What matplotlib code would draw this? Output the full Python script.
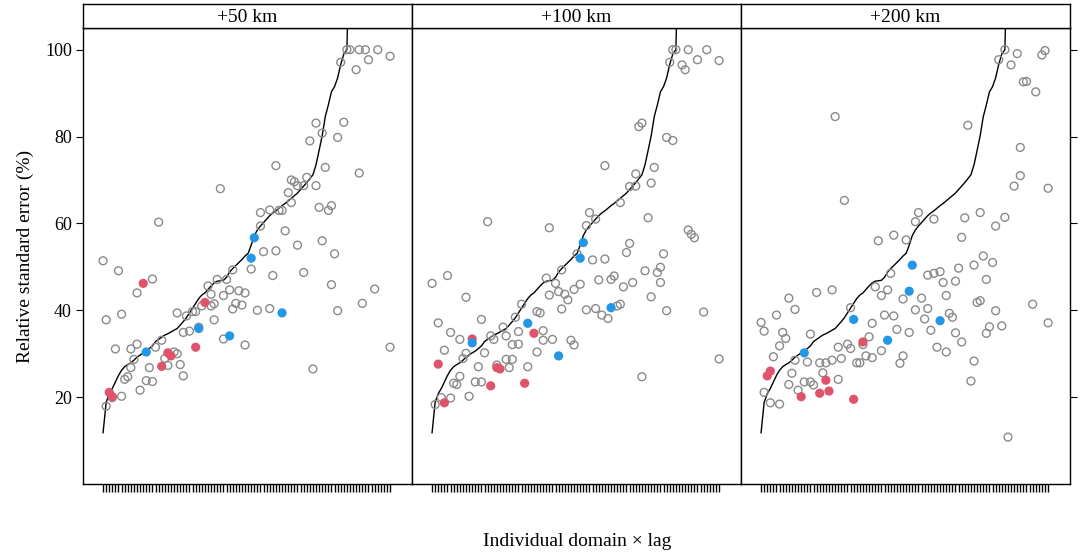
import matplotlib
matplotlib.use("Agg")
import matplotlib.pyplot as plt
import numpy as np

plt.rcParams['font.family'] = ['Liberation Serif', 'DejaVu Serif']

# panels
panel_titles = ['+50 km', '+100 km', '+200 km']
n_domains = 94
y_ticks = [20, 40, 60, 80, 100]

# baseline RSE, sorted (same line in every panel); values past 80 run off the top
baseline = [11.8, 18.8, 20.8, 22.0, 23.5, 25.0, 26.2, 27.0, 27.5, 27.9,
            28.5, 29.2, 29.7, 30.2, 30.6, 31.2, 31.8, 32.8, 33.3, 33.8,
            34.3, 34.6, 35.0, 35.4, 35.8, 36.6, 37.4, 38.3, 39.4, 40.5,
            41.6, 42.7, 43.5, 44.0, 44.8, 45.6, 46.3, 46.7, 46.8, 46.9,
            47.6, 48.8, 49.6, 50.3, 51.0, 51.7, 52.5, 53.1, 55.0, 57.2,
            58.5, 59.4, 60.2, 61.0, 61.8, 62.4, 62.9, 63.5, 64.1, 64.6,
            65.2, 65.8, 66.4, 67.0, 67.8, 68.6, 69.4, 70.3, 71.2, 73.5,
            76.8, 80.2, 84.6, 87.3, 90.3, 91.5, 93.5, 96.6, 99.0, 100.0,
            130, 140, 150, 160, 170, 180, 190, 200, 210, 220,
            230, 240, 250, 260]

# +50 km
p50_grey_x = [80, 81, 84, 86, 90, 94, 87, 78, 83, 70, 79, 72, 68, 77, 57, 73, 84, 39,
              62, 63, 67, 64, 66, 70, 61, 62, 71, 74, 75, 52, 55, 58, 59, 19, 52, 60, 64, 72,
              53, 57, 76, 49, 56, 66, 75, 89, 85, 77, 51, 55, 46, 44, 43, 45, 47, 42, 40, 38, 41, 43,
              35, 36, 36, 37, 33, 37, 30, 31, 28, 25, 27, 29, 32, 40, 47, 69, 94,
              6, 1, 17, 12, 7, 2, 5, 10, 12, 11, 18, 20, 10, 16, 8, 9, 15, 17, 13, 22, 24, 25,
              21, 26, 27, 4, 7, 2]
p50_grey_y = [100, 100, 100, 100, 100, 98.5, 97.7, 97.1, 95.4, 83.1, 83.3, 80.8, 79.0, 79.8, 73.3, 72.9, 71.6, 68.0,
              70.0, 69.6, 70.6, 68.7, 68.7, 68.7, 67.1, 64.8, 63.7, 63.0, 64.1, 62.5, 63.1, 63.0, 63.0, 60.3, 59.4, 58.3, 55.0, 56.0,
              53.5, 53.7, 53.0, 49.5, 48.0, 48.7, 45.9, 44.9, 41.6, 39.9, 40.0, 40.4, 41.2, 41.6, 40.3, 44.5, 44.0, 44.7, 43.4, 47.1, 47.1, 49.3,
              45.6, 43.7, 41.0, 41.5, 41.0, 37.8, 39.7, 39.7, 38.7, 39.4, 34.9, 35.2, 36.1, 33.4, 32.0, 26.5, 31.5,
              49.1, 51.4, 47.2, 44.0, 39.1, 37.8, 31.1, 31.1, 32.2, 28.7, 31.5, 33.1, 26.8, 26.8, 24.1, 24.7, 23.8, 23.6, 21.6, 27.3, 30.4, 30.0,
              28.9, 27.5, 24.9, 19.9, 20.2, 17.9]
p50_red_x = [14, 34, 31, 20, 22, 23, 3, 4]
p50_red_y = [46.2, 41.8, 31.5, 27.1, 30.2, 29.5, 21.1, 20.1]
p50_blue_x = [50, 49, 59, 32, 42, 15]
p50_blue_y = [56.7, 52.0, 39.4, 35.8, 34.1, 30.4]

# +100 km
p100_grey_x = [79, 80, 84, 90, 94, 87, 78, 82, 83, 68, 69, 77, 79, 57, 73, 67, 65, 67, 72,
               62, 52, 54, 51, 19, 39, 71, 84, 85, 86, 65, 64, 76, 53, 57, 48, 43, 38, 41, 42, 39,
               44, 45, 47, 49, 43, 51, 54, 56, 58, 61, 62, 55, 59, 60, 63, 66, 70, 74, 75, 75, 72, 77, 89, 94, 69,
               1, 6, 12, 3, 7, 10, 17, 5, 12, 11, 18, 20, 21, 24, 25, 27, 29, 28, 30, 29, 35, 36, 37,
               37, 40, 35, 32, 46, 47, 27, 25, 26, 22, 16, 10, 8, 9, 15, 17, 13, 4, 7, 2]
p100_grey_y = [100, 100, 100, 100, 97.5, 97.7, 97.1, 96.5, 95.4, 82.3, 83.1, 79.8, 79.1, 73.3, 72.9, 71.4, 68.5, 68.6, 69.3,
               64.8, 62.5, 61.0, 59.5, 60.4, 59.0, 61.3, 58.5, 57.5, 56.7, 55.4, 53.3, 53.0, 51.6, 51.8, 53.0, 49.3, 47.4, 46.2, 44.3, 43.5,
               43.7, 42.4, 44.8, 46.0, 40.3, 40.1, 40.4, 38.9, 38.1, 41.0, 41.4, 47.0, 47.1, 47.9, 45.4, 46.4, 49.1, 48.7, 49.9, 46.4, 43.1, 39.9, 39.6, 28.8, 24.7,
               46.2, 48.0, 43.0, 37.1, 34.9, 33.3, 37.9, 30.8, 30.1, 28.9, 30.2, 34.1, 33.3, 36.1, 34.1, 32.1, 32.2, 38.4, 41.4, 35.1, 39.7, 39.4, 35.3,
               33.1, 33.3, 30.4, 27.0, 33.1, 32.0, 28.7, 28.7, 26.8, 27.4, 27.0, 24.8, 23.2, 22.9, 23.5, 23.5, 20.2, 19.9, 19.8, 18.3]
p100_red_x = [14, 3, 34, 31, 22, 23, 20, 5]
p100_red_y = [33.4, 27.6, 34.7, 23.2, 26.8, 26.5, 22.6, 18.7]
p100_blue_x = [50, 49, 59, 14, 32, 42]
p100_blue_y = [55.6, 52.0, 40.6, 32.5, 37.0, 29.5]

# +200 km
p200_grey_x = [80, 78, 84, 82, 92, 93, 86, 87, 90, 25, 68, 85, 85, 83, 94, 28, 52, 51, 57, 67, 72, 80, 77,
               39, 44, 48, 66, 43, 38, 42, 40, 47, 53, 51, 55, 54, 56, 49, 45,
               41, 44, 37, 30, 36, 34, 40, 37, 35, 32, 33, 47, 46,
               27, 26, 29, 30, 24, 22, 20, 21, 26,
               13, 10, 15, 17, 18, 11, 16, 12, 5, 7, 9, 8,
               17, 6, 12, 10, 19, 24, 1, 2, 2, 4, 7, 81,
               89, 94, 69, 70, 58, 61, 64, 66, 62, 63, 61, 60,
               55, 57, 59, 64, 65, 70, 73, 76, 74, 71, 72, 77, 75, 74, 79]
p200_grey_y = [100, 97.7, 99.1, 96.5, 98.8, 99.8, 92.6, 92.7, 90.3, 84.6, 82.6, 77.5, 71.0, 68.6, 68.1, 65.3, 62.5, 60.4, 61.0, 61.3, 62.5, 61.4, 59.4,
               56.0, 57.3, 56.2, 56.8, 48.5, 45.4, 44.7, 43.4, 42.6, 42.8, 40.1, 40.4, 38.0, 35.4, 34.9, 35.6,
               38.9, 38.7, 37.0, 40.6, 33.9, 32.1, 30.7, 29.1, 29.5, 27.9, 27.9, 29.5, 27.8,
               28.9, 31.5, 32.2, 31.2, 28.5, 27.9, 27.9, 25.6, 24.1,
               21.6, 22.9, 23.5, 23.5, 22.8, 25.5, 28.1, 28.5, 29.3, 31.8, 33.5, 34.9,
               34.5, 38.9, 40.2, 42.8, 44.1, 44.7, 37.2, 35.2, 21.1, 18.7, 18.4, 10.8,
               41.4, 37.1, 23.7, 28.3, 31.5, 30.4, 34.8, 32.7, 39.3, 38.4, 43.4, 46.4,
               48.1, 48.5, 48.9, 46.7, 49.7, 50.4, 52.5, 51.0, 47.1, 41.8, 42.2, 39.9, 36.2, 34.7, 36.4]
p200_red_x = [34, 22, 23, 20, 14, 31, 3, 4]
p200_red_y = [32.7, 23.9, 21.4, 20.9, 20.1, 19.5, 24.9, 26.0]
p200_blue_x = [50, 49, 31, 42, 59, 15]
p200_blue_y = [50.4, 44.4, 37.9, 33.1, 37.6, 30.2]

panels = [
    (p50_grey_x, p50_grey_y, p50_red_x, p50_red_y, p50_blue_x, p50_blue_y),
    (p100_grey_x, p100_grey_y, p100_red_x, p100_red_y, p100_blue_x, p100_blue_y),
    (p200_grey_x, p200_grey_y, p200_red_x, p200_red_y, p200_blue_x, p200_blue_y),
]

W, H = 1084, 559
fig = plt.figure(figsize=(W / 100, H / 100), dpi=100)

idx = np.arange(1, n_domains + 1)
left_px = [83, 412, 741]
pw = 329
top_px, bot_px, strip_top = 28, 484, 4

for k, (gx, gy, rx, ry, bx, by) in enumerate(panels):
    ax = fig.add_axes([left_px[k] / W, 1 - bot_px / H, pw / W, (bot_px - top_px) / H])
    ax.plot(idx, baseline, color='black', lw=1.0, zorder=2)
    ax.scatter(gx, gy, s=32, facecolors='none', edgecolors='#8a8a8a', linewidths=1.0, zorder=3)
    ax.scatter(rx, ry, s=44, color='#DF536B', edgecolors='none', zorder=4)
    ax.scatter(bx, by, s=44, color='#2297E6', edgecolors='none', zorder=4)
    ax.set_xlim(-5.5, 101.1)
    ax.set_ylim(0, 105)
    ax.set_xticks(idx)
    ax.set_xticklabels([])
    ax.tick_params(axis='x', direction='out', length=5.5, width=1.0, bottom=True, top=False)
    for s in ax.spines.values():
        s.set_linewidth(1.0)
    ax.set_yticks(y_ticks)
    if k == 0:
        ax.tick_params(axis='y', direction='out', length=5, width=0.8, labelsize=13,
                       left=True, right=False, labelleft=True, pad=3)
    elif k == 2:
        ax.tick_params(axis='y', direction='out', length=5, width=0.8,
                       left=False, right=True, labelleft=False, labelright=False)
    else:
        ax.tick_params(axis='y', left=False, right=False, labelleft=False)

    # strip
    sax = fig.add_axes([left_px[k] / W, 1 - top_px / H, pw / W, (top_px - strip_top) / H])
    sax.set_xticks([])
    sax.set_yticks([])
    for s in sax.spines.values():
        s.set_linewidth(1.0)
    sax.text(0.5, 0.45, panel_titles[k], ha='center', va='center', fontsize=14,
             transform=sax.transAxes)

fig.text(25 / W, 1 - 256 / H, 'Relative standard error (%)', rotation=90,
         ha='center', va='center', fontsize=14)
fig.text(577 / W, 1 - 541 / H, 'Individual domain \u00d7 lag', ha='center', va='center', fontsize=14)

fig.savefig('out.png', dpi=100)
